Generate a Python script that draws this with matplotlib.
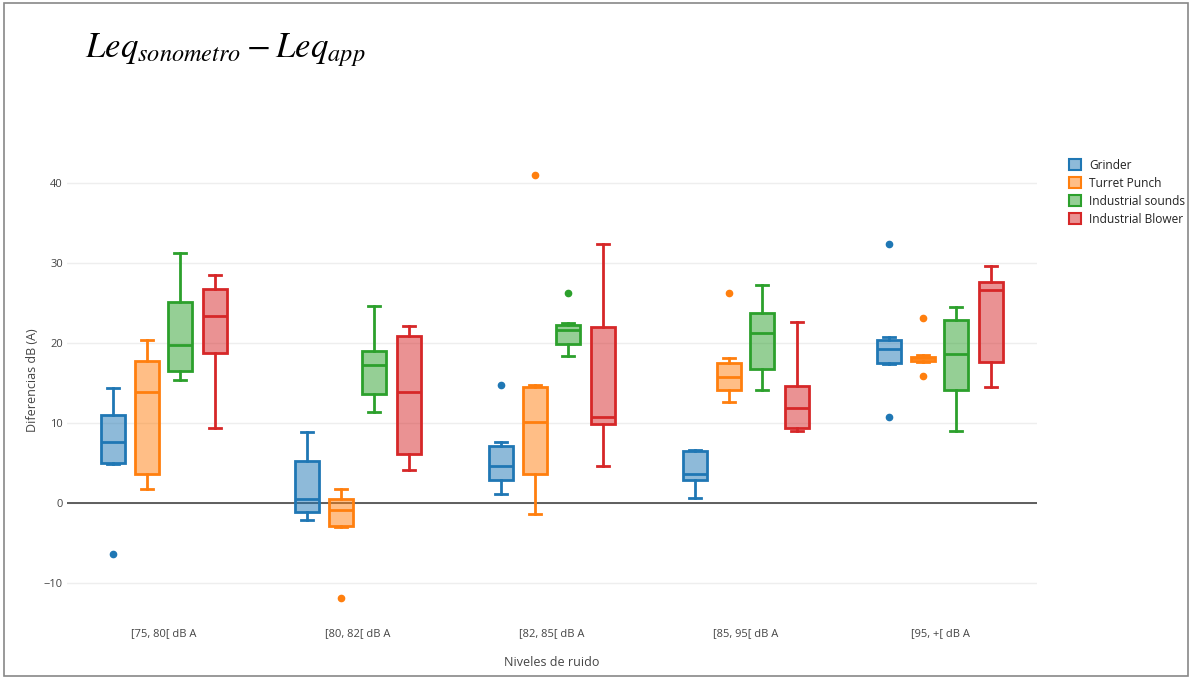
import numpy as np
import matplotlib.pyplot as plt
from matplotlib.patches import Rectangle, Patch
from matplotlib.colors import to_rgba

categories = ['[75, 80[ dB A', '[80, 82[ dB A', '[82, 85[ dB A', '[85, 95[ dB A', '[95, +[ dB A']
series = ['Grinder', 'Turret Punch', 'Industrial sounds', 'Industrial Blower']
colors = ['#1f77b4', '#ff7f0e', '#2ca02c', '#d62728']

# box stats per series, one row per category: whislo, q1, med, q3, whishi
grinder = [[4.9, 5.0, 7.6, 11.0, 14.4],
           [-2.1, -1.1, 0.5, 5.3, 8.9],
           [1.2, 2.9, 4.7, 7.1, 7.6],
           [0.7, 2.9, 3.6, 6.5, 6.7],
           [17.4, 17.5, 19.2, 20.4, 20.7]]
turret = [[1.8, 3.6, 13.9, 17.8, 20.4],
          [-3.0, -2.8, -0.9, 0.5, 1.8],
          [-1.3, 3.7, 10.1, 14.5, 14.8],
          [12.6, 14.1, 15.7, 17.5, 18.1],
          [17.6, 17.8, 18.1, 18.3, 18.5]]
sounds = [[15.4, 16.5, 19.7, 25.1, 31.2],
          [11.4, 13.6, 17.3, 19.0, 24.6],
          [18.4, 19.9, 21.6, 22.3, 22.5],
          [14.2, 16.7, 21.2, 23.8, 27.3],
          [9.0, 14.1, 18.6, 22.9, 24.5]]
blower = [[9.4, 18.8, 23.4, 26.7, 28.5],
          [4.1, 6.2, 13.9, 20.9, 22.1],
          [4.7, 9.9, 10.8, 22.0, 32.4],
          [9.0, 9.4, 11.9, 14.7, 22.6],
          [14.5, 17.6, 26.6, 27.6, 29.6]]

grinder_out = [[-6.4], [], [14.8], [], [32.4, 10.8]]
turret_out = [[], [-11.8], [41.0], [26.2], [23.1, 15.9]]
sounds_out = [[], [], [26.3], [], []]
blower_out = [[], [], [], [], []]

all_stats = [grinder, turret, sounds, blower]
all_out = [grinder_out, turret_out, sounds_out, blower_out]

plt.rcParams['font.family'] = ['Open Sans', 'DejaVu Sans']
plt.rcParams['mathtext.fontset'] = 'stix'

fig = plt.figure(figsize=(11.92, 6.79), dpi=100)
ax = fig.add_axes([67/1192, 1-620/679, (1037-67)/1192, (620-145)/679])

offsets = [-0.263, -0.088, 0.082, 0.263]
for s in range(len(series)):
    stats = []
    for c in range(len(categories)):
        lo, q1, med, q3, hi = all_stats[s][c]
        stats.append(dict(whislo=lo, q1=q1, med=med, q3=q3, whishi=hi, fliers=all_out[s][c]))
    col = colors[s]
    fc = list(to_rgba(col))
    fc[3] = 0.5
    ax.bxp(stats, positions=np.arange(len(categories)) + offsets[s], widths=0.124,
           patch_artist=True, showfliers=True,
           boxprops=dict(facecolor=fc, edgecolor=col, linewidth=2),
           medianprops=dict(color=col, linewidth=2),
           whiskerprops=dict(color=col, linewidth=2),
           capprops=dict(color=col, linewidth=2),
           capwidths=0.062,
           flierprops=dict(marker='o', markerfacecolor=col, markeredgecolor=col, markersize=4.5))

ax.set_xlim(-0.5, 4.5)
ax.set_ylim(-14.6, 44.75)
ax.set_yticks([-10, 0, 10, 20, 30, 40])
ax.set_xticks(range(len(categories)))
ax.set_xticklabels(categories)
ax.grid(axis='y', color='#eeeeee', linewidth=1)
ax.set_axisbelow(True)
ax.axhline(0, color='#444444', linewidth=1.2, zorder=1)
for sp in ax.spines.values():
    sp.set_visible(False)
ax.tick_params(length=0, labelsize=8, colors='#444444', pad=3)
ax.tick_params(axis='x', pad=6)

fig.text(32/1192, 1-380/679, 'Diferencias dB (A)', rotation=90, fontsize=9,
         color='#444444', ha='center', va='center')
fig.text(552/1192, 1-662/679, 'Niveles de ruido', fontsize=9,
         color='#444444', ha='center', va='center')

handles = []
for s in range(len(series)):
    fc = list(to_rgba(colors[s]))
    fc[3] = 0.5
    handles.append(Patch(facecolor=fc, edgecolor=colors[s], linewidth=1.5, label=series[s]))
fig.legend(handles=handles, loc='upper left', bbox_to_anchor=(1058/1192, 1-148/679),
           frameon=False, fontsize=8.6, handlelength=1.0, handleheight=1.0,
           handletextpad=0.7, labelspacing=0.42, labelcolor='#222222')

fig.text(85/1192, 1-50/679, r'$Leq_{sonometro} - Leq_{app}$', fontsize=25,
         va='center', ha='left', color='black')

fig.patches.append(Rectangle((4/1192, 3/679), 1184/1192, 673/679, transform=fig.transFigure,
                             fill=False, edgecolor='#888888', linewidth=1.2))

fig.savefig('out.png', dpi=100)
